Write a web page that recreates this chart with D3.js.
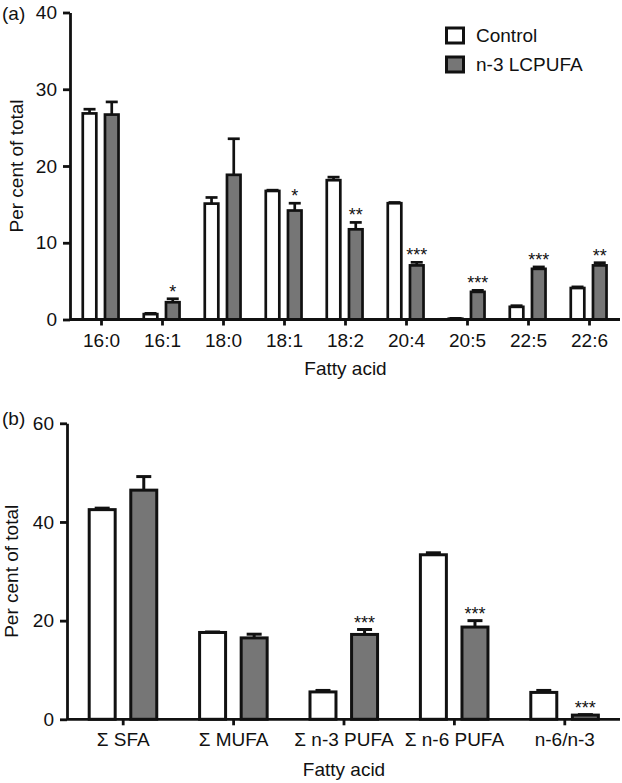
<!DOCTYPE html>
<html>
<head>
<meta charset="utf-8">
<script src="https://cdn.jsdelivr.net/npm/d3@7"></script>
<style>
  html, body { margin: 0; padding: 0; background: #fff; }
  svg { display: block; }
  text { font-family: "Liberation Sans", Arial, Helvetica, sans-serif; fill: #111; }
</style>
</head>
<body>
<script>
// ---------- Panel (a) data ----------
const categoriesA = ["16:0", "16:1", "18:0", "18:1", "18:2", "20:4", "20:5", "22:5", "22:6"];
const controlA    = [26.85, 0.7, 15.1, 16.75, 18.15, 15.15, 0.1, 1.65, 4.1];
const controlErrA = [0.55, 0.1, 0.8, 0.1, 0.4, 0.1, 0.05, 0.15, 0.15];
const n3A         = [26.7, 2.25, 18.85, 14.2, 11.75, 7.05, 3.6, 6.6, 7.05];
const n3ErrA      = [1.65, 0.45, 4.7, 0.95, 0.9, 0.4, 0.2, 0.25, 0.35];
const sigA        = ["", "*", "", "*", "**", "***", "***", "***", "**"];
const ticksA      = [0, 10, 20, 30, 40];

// ---------- Panel (b) data ----------
const categoriesB = ["Σ SFA", "Σ MUFA", "Σ n-3 PUFA", "Σ n-6 PUFA", "n-6/n-3"];
const controlB    = [42.5, 17.6, 5.55, 33.35, 5.45];
const controlErrB = [0.3, 0.1, 0.3, 0.4, 0.4];
const n3B         = [46.45, 16.5, 17.2, 18.7, 0.85];
const n3ErrB      = [2.75, 0.75, 1.0, 1.3, 0.1];
const sigB        = ["", "", "***", "***", "***"];
const ticksB      = [0, 20, 40, 60];

const groups = ["Control", "n-3 LCPUFA"];
const colors = { "Control": "#ffffff", "n-3 LCPUFA": "#767676" };

const FS = "19px";
const W = 622, H = 783;
const svg = d3.select("body").append("svg").attr("width", W).attr("height", H);

function panel(cfg) {
  const x = d3.scaleBand().domain(cfg.cats).range([cfg.x0, cfg.x1]).padding(0);
  const y = d3.scaleLinear().domain([0, cfg.ymax]).range([cfg.yBottom, cfg.yTop]);
  const bw = x.bandwidth();
  const sub = d3.scaleBand().domain(groups)
    .range([bw * cfg.subStart, bw * cfg.subEnd]).paddingInner(cfg.subPad).paddingOuter(0);

  const g = svg.append("g");

  const rows = cfg.cats.map((c, i) => ({
    cat: c, sig: cfg.sig[i],
    vals: [
      { group: groups[0], v: cfg.ctrl[i], e: cfg.ctrlErr[i] },
      { group: groups[1], v: cfg.n3[i], e: cfg.n3Err[i] }
    ]
  }));

  const cg = g.selectAll("g.cat").data(rows).join("g")
    .attr("transform", d => `translate(${x(d.cat)},0)`);

  // error bars (upward only)
  const eb = cg.selectAll("g.err").data(d => d.vals).join("g");
  eb.append("line")
    .attr("x1", d => sub(d.group) + sub.bandwidth() / 2)
    .attr("x2", d => sub(d.group) + sub.bandwidth() / 2)
    .attr("y1", d => y(d.v))
    .attr("y2", d => y(d.v + d.e))
    .attr("stroke", "#111").attr("stroke-width", cfg.sw);
  eb.append("line")
    .attr("x1", d => sub(d.group) + sub.bandwidth() / 2 - cfg.cap / 2)
    .attr("x2", d => sub(d.group) + sub.bandwidth() / 2 + cfg.cap / 2)
    .attr("y1", d => y(d.v + d.e))
    .attr("y2", d => y(d.v + d.e))
    .attr("stroke", "#111").attr("stroke-width", cfg.sw);

  // bars
  cg.selectAll("rect").data(d => d.vals).join("rect")
    .attr("x", d => sub(d.group))
    .attr("width", sub.bandwidth())
    .attr("y", d => y(d.v))
    .attr("height", d => y(0) - y(d.v))
    .attr("fill", d => colors[d.group])
    .attr("stroke", "#111")
    .attr("stroke-width", cfg.sw);

  // significance stars above n-3 bar
  cg.append("text")
    .attr("x", sub(groups[1]) + sub.bandwidth() / 2)
    .attr("y", d => y(d.vals[1].v + d.vals[1].e) - 1)
    .attr("text-anchor", "middle")
    .style("font-size", "18px")
    .text(d => d.sig);

  // axes
  const yAxis = d3.axisLeft(y).tickValues(cfg.ticks).tickSize(7).tickSizeOuter(0).tickPadding(6);
  const ya = g.append("g").attr("transform", `translate(${cfg.x0 - 1},0)`).call(yAxis);
  ya.select(".domain").attr("stroke", "#111").attr("stroke-width", 2.8);
  ya.selectAll(".tick line").attr("stroke", "#111").attr("stroke-width", 2.8);
  ya.selectAll(".tick text").style("font-size", FS).attr("fill", "#111")
    .attr("font-family", "Liberation Sans, Arial, sans-serif");

  const xAxis = d3.axisBottom(x).tickSize(6).tickSizeOuter(0).tickPadding(6);
  const xa = g.append("g").attr("transform", `translate(0,${cfg.yBottom})`).call(xAxis);
  xa.select(".domain").attr("stroke", "#111").attr("stroke-width", 2.8)
    .attr("d", `M${cfg.x0 - 1},0H${cfg.x1}`);
  xa.selectAll(".tick line").attr("stroke", "#111").attr("stroke-width", 2.8);
  xa.selectAll(".tick text").style("font-size", FS).attr("fill", "#111")
    .attr("font-family", "Liberation Sans, Arial, sans-serif")
    .attr("dy", null).attr("y", cfg.tickLabelY);

  // axis titles
  g.append("text")
    .attr("x", (cfg.x0 + cfg.x1) / 2)
    .attr("y", cfg.xTitleY)
    .attr("text-anchor", "middle")
    .style("font-size", FS)
    .text("Fatty acid");
  g.append("text")
    .attr("transform", `translate(${cfg.yTitleX},${(cfg.yTop + cfg.yBottom) / 2}) rotate(-90)`)
    .attr("text-anchor", "middle")
    .style("font-size", FS)
    .text("Per cent of total");

  // panel label
  g.append("text")
    .attr("x", 2)
    .attr("y", cfg.labelY)
    .style("font-size", FS)
    .text(cfg.label);
}

panel({
  cats: categoriesA, ctrl: controlA, ctrlErr: controlErrA, n3: n3A, n3Err: n3ErrA, sig: sigA,
  ticks: ticksA, ymax: 40,
  x0: 71, x1: 620, yTop: 12.5, yBottom: 319.5,
  subStart: 0.193, subEnd: 0.779, subPad: 0.39,
  sw: 2.7, cap: 12,
  tickLabelY: 27, xTitleY: 375, yTitleX: 23, labelY: 20, label: "(a)"
});

panel({
  cats: categoriesB, ctrl: controlB, ctrlErr: controlErrB, n3: n3B, n3Err: n3ErrB, sig: sigB,
  ticks: ticksB, ymax: 60,
  x0: 68, x1: 620, yTop: 423.3, yBottom: 719.3,
  subStart: 0.192, subEnd: 0.804, subPad: 0.375,
  sw: 3, cap: 15,
  tickLabelY: 27, xTitleY: 776, yTitleX: 18, labelY: 425, label: "(b)"
});

// legend
const leg = svg.append("g").attr("transform", "translate(446.5,28)");
leg.selectAll("rect").data(groups).join("rect")
  .attr("x", 0)
  .attr("y", (d, i) => i * 29)
  .attr("width", 17)
  .attr("height", 15)
  .attr("fill", d => colors[d])
  .attr("stroke", "#111")
  .attr("stroke-width", 3);
leg.selectAll("text").data(groups).join("text")
  .attr("x", 29.5)
  .attr("y", (d, i) => 13.7 + i * 29)
  .style("font-size", FS)
  .text(d => d);
</script>
</body>
</html>
